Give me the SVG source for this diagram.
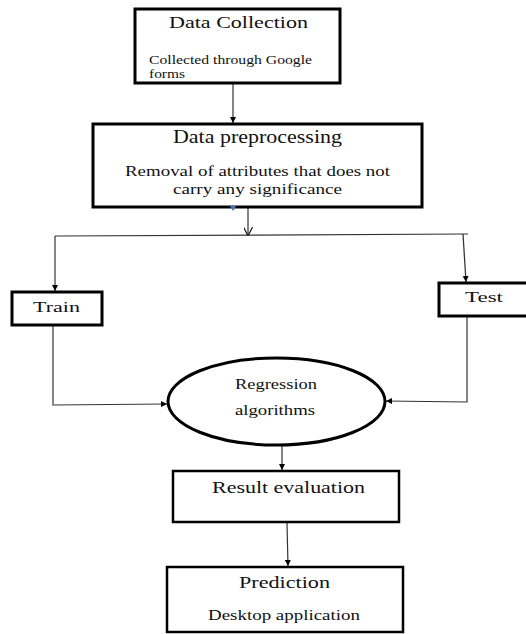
<svg xmlns="http://www.w3.org/2000/svg" width="526" height="634" viewBox="0 0 526 634">
<style>
text{font-family:'Liberation Serif','DejaVu Serif',serif;fill:#111;}
.box{fill:#fff;stroke:#000;stroke-width:3;}
.thin{fill:#fff;stroke:#000;stroke-width:2.5;}
.c{fill:none;stroke:#333;stroke-width:1.2;}
</style>
<defs>
<marker id="ah" viewBox="0 0 10 10" refX="10" refY="5" markerWidth="6" markerHeight="6" markerUnits="userSpaceOnUse" orient="auto">
<path d="M0,0 L10,5 L0,10 z" fill="#000"/>
</marker>
<marker id="av" viewBox="0 0 10 10" refX="10" refY="5" markerWidth="9" markerHeight="9" markerUnits="userSpaceOnUse" orient="auto">
<path d="M0,0 L10,5 L0,10" fill="none" stroke="#000" stroke-width="1.2"/>
</marker>
</defs>
<rect width="526" height="634" fill="#fff"/>
<g id="connectors">
<line class="c" x1="233" y1="83" x2="233" y2="123" marker-end="url(#ah)"/>
<line class="c" x1="248" y1="208" x2="248" y2="236" marker-end="url(#av)"/>
<line class="c" x1="55" y1="236" x2="468" y2="234"/>
<line class="c" x1="55" y1="236" x2="55" y2="291" marker-end="url(#ah)"/>
<line class="c" x1="463" y1="234" x2="466" y2="282" marker-end="url(#ah)"/>
<polyline class="c" points="53,325 53,405 167,404" marker-end="url(#ah)"/>
<polyline class="c" points="467,316 467,402 386,401" marker-end="url(#ah)"/>
<line class="c" x1="282" y1="445" x2="282" y2="470" marker-end="url(#ah)"/>
<line class="c" x1="287" y1="523" x2="288" y2="566" marker-end="url(#ah)"/>
</g>
<g id="data-collection" font-family="'Liberation Serif','DejaVu Serif',serif">
<rect class="box" x="135" y="9" width="205" height="74"/>
<text x="169" y="28" font-size="17" textLength="139" lengthAdjust="spacingAndGlyphs">Data Collection</text>
<text x="149" y="64" font-size="12" textLength="163" lengthAdjust="spacingAndGlyphs">Collected through Google</text>
<text x="149" y="78" font-size="12" textLength="36" lengthAdjust="spacingAndGlyphs">forms</text>
</g>
<g id="data-preprocessing" font-family="'Liberation Serif','DejaVu Serif',serif">
<rect class="box" x="93" y="124" width="329" height="83"/>
<text x="173" y="143" font-size="18" textLength="169" lengthAdjust="spacingAndGlyphs">Data preprocessing</text>
<text x="125" y="176" font-size="15" textLength="265" lengthAdjust="spacingAndGlyphs">Removal of attributes that does not</text>
<text x="173" y="194" font-size="15" textLength="169" lengthAdjust="spacingAndGlyphs">carry any significance</text>
<polygon points="230,206 236,206 233,211" fill="#4472c4"/>
</g>
<g id="train" font-family="'Liberation Serif','DejaVu Serif',serif">
<rect class="box" x="12" y="292" width="90" height="33" stroke-width="3.5"/>
<text x="33" y="312" font-size="15" textLength="47" lengthAdjust="spacingAndGlyphs">Train</text>
</g>
<g id="test" font-family="'Liberation Serif','DejaVu Serif',serif">
<rect class="box" x="439" y="283" width="90" height="33" stroke-width="3.5"/>
<text x="465" y="302" font-size="15" textLength="38" lengthAdjust="spacingAndGlyphs">Test</text>
</g>
<g id="regression" font-family="'Liberation Serif','DejaVu Serif',serif">
<ellipse cx="276.5" cy="401.5" rx="108.5" ry="43.5" fill="#fff" stroke="#000" stroke-width="3"/>
<text x="235" y="389" font-size="15" textLength="82" lengthAdjust="spacingAndGlyphs">Regression</text>
<text x="235" y="415" font-size="15" textLength="80" lengthAdjust="spacingAndGlyphs">algorithms</text>
</g>
<g id="result-evaluation" font-family="'Liberation Serif','DejaVu Serif',serif">
<rect class="thin" x="173" y="471" width="226" height="51"/>
<text x="212" y="493" font-size="16" textLength="153" lengthAdjust="spacingAndGlyphs">Result evaluation</text>
</g>
<g id="prediction" font-family="'Liberation Serif','DejaVu Serif',serif">
<rect class="thin" x="167" y="567" width="236" height="65"/>
<text x="239" y="588" font-size="16" textLength="91" lengthAdjust="spacingAndGlyphs">Prediction</text>
<text x="208" y="620" font-size="14" textLength="152" lengthAdjust="spacingAndGlyphs">Desktop application</text>
</g>
</svg>
